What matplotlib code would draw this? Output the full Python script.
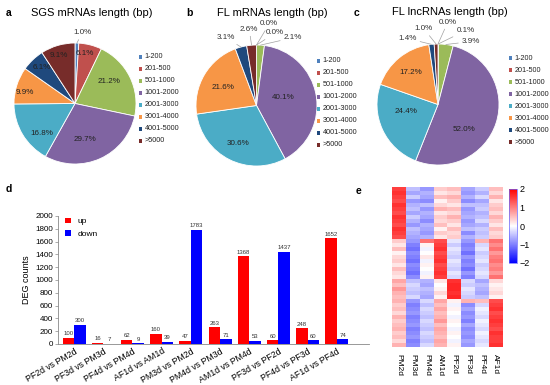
import numpy as np
import matplotlib
matplotlib.use('Agg')
import matplotlib.pyplot as plt
from matplotlib.colors import LinearSegmentedColormap
from matplotlib.patches import Rectangle
from matplotlib.transforms import ScaledTranslation

plt.rcParams['font.family'] = ['Liberation Sans', 'DejaVu Sans']

# ---------------- data ----------------
length_bins = ['1-200', '201-500', '501-1000', '1001-2000',
               '2001-3000', '3001-4000', '4001-5000', '>5000']
sgs_mrna = [1.0, 6.1, 21.2, 29.7, 16.8, 9.9, 6.1, 9.1]
fl_mrna = [0.0, 0.0, 2.1, 40.1, 30.6, 21.6, 3.1, 2.6]
fl_lncrna = [0.0, 0.1, 3.9, 52.0, 24.4, 17.2, 1.4, 1.0]

comparisons = ['PF2d vs PM2d', 'PF3d vs PM3d', 'PF4d vs PM4d', 'AF1d vs AM1d',
               'PM3d vs PM2d', 'PM4d vs PM3d', 'AM1d vs PM4d', 'PF3d vs PF2d',
               'PF4d vs PF3d', 'AF1d vs PF4d']
deg_up = [100, 16, 62, 160, 47, 263, 1368, 60, 248, 1652]
deg_down = [300, 7, 9, 39, 1783, 71, 53, 1437, 60, 74]

samples = ['PM2d', 'PM3d', 'PM4d', 'AM1d', 'PF2d', 'PF3d', 'PF4d', 'AF1d']
# z-scored expression, rows grouped into four clusters
heat_values = [
    [1.5, -0.5, -0.8, 0.4, 0.5, -0.7, -0.4, 0.5],
    [1.6, -0.7, -0.6, 0.2, 0.3, -0.8, -0.6, 0.3],
    [1.5, -0.4, -0.7, 0.5, 0.6, -0.6, -0.3, 0.6],
    [1.4, -0.8, -0.9, 0.1, 0.4, -0.9, -0.7, 0.2],
    [1.6, -0.6, -0.5, 0.3, 0.2, -0.5, -0.5, 0.4],
    [1.5, -0.5, -0.8, 0.6, 0.5, -0.8, -0.4, 0.5],
    [1.4, -0.7, -0.6, 0.2, 0.3, -0.7, -0.6, 0.3],
    [1.6, -0.4, -0.7, 0.4, 0.6, -0.6, -0.5, 0.6],
    [1.5, -0.6, -0.9, 0.3, 0.4, -0.8, -0.3, 0.4],
    [1.4, -0.8, -0.6, 0.5, 0.2, -0.7, -0.6, 0.2],
    [1.6, -0.5, -0.7, 0.1, 0.5, -0.5, -0.4, 0.5],
    [1.5, -0.6, -0.8, 0.4, 0.3, -0.9, -0.5, 0.3],
    [1.4, -0.7, -0.6, 0.2, 0.4, -0.6, -0.4, 0.4],
    [0.4, -0.8, 1.1, 1.4, -0.2, -0.8, 0.6, 1.1],
    [0.2, -1.0, 0.1, 1.5, -0.4, -1.0, -0.3, 0.9],
    [0.5, -1.1, -0.1, 1.6, -0.2, -0.9, -0.2, 1.1],
    [0.1, -0.9, 0.0, 1.4, -0.3, -1.1, -0.4, 0.8],
    [0.3, -1.0, 0.2, 1.5, -0.4, -0.8, -0.3, 1.0],
    [0.4, -1.1, -0.1, 1.6, -0.2, -1.0, -0.2, 1.1],
    [0.2, -0.9, 0.1, 1.4, -0.3, -0.9, -0.4, 0.9],
    [0.5, -1.0, 0.0, 1.5, -0.4, -1.1, -0.3, 1.0],
    [0.3, -1.1, -0.1, 1.6, -0.2, -0.8, -0.2, 0.8],
    [0.2, -0.9, 0.1, 1.5, -0.3, -1.0, -0.3, 1.1],
    [0.7, -0.5, -0.6, 0.2, 1.6, -0.3, -0.7, 0.3],
    [0.5, -0.3, -0.7, 0.0, 1.7, -0.4, -0.5, 0.1],
    [0.8, -0.4, -0.5, 0.1, 1.7, -0.2, -0.6, 0.2],
    [0.6, -0.5, -0.6, 0.3, 1.6, -0.3, -0.7, 0.3],
    [0.5, -0.3, -0.7, 0.1, 1.7, -0.4, -0.5, 0.1],
    [0.6, -0.8, -0.3, 0.7, 0.1, 0.6, 0.5, 1.4],
    [0.4, -1.0, -0.5, 0.5, -0.1, -0.9, -0.3, 1.5],
    [0.5, -0.9, -0.3, 0.7, 0.1, -0.7, -0.1, 1.6],
    [0.3, -0.8, -0.4, 0.5, 0.0, -0.9, -0.2, 1.4],
    [0.6, -1.0, -0.5, 0.6, -0.1, -0.8, -0.3, 1.5],
    [0.4, -0.9, -0.3, 0.8, 0.1, -1.0, -0.1, 1.6],
    [0.5, -0.8, -0.4, 0.5, 0.0, -0.7, -0.2, 1.5],
    [0.6, -1.0, -0.5, 0.7, -0.1, -0.9, -0.3, 1.4],
    [0.4, -0.9, -0.3, 0.6, 0.1, -0.8, -0.1, 1.6],
    [0.5, -0.8, -0.4, 0.5, 0.0, -0.9, -0.2, 1.5],
    [0.3, -1.0, -0.5, 0.7, -0.1, -0.7, -0.3, 1.5],
    [0.6, -0.9, -0.3, 0.6, 0.1, -0.8, -0.2, 1.6],
]

# ---------------- style ----------------
W, H = 550, 385
pie_colors = ['#4F81BD', '#C0504D', '#9BBB59', '#8064A2',
              '#4BACC6', '#F79646', '#1F497D', '#772C2A']


def fig_rect(x0, y0, x1, y1):
    # pixel box (top-left origin) -> figure fraction rect
    return [x0 / W, 1 - y1 / H, (x1 - x0) / W, (y1 - y0) / H]


fig = plt.figure(figsize=(W / 100, H / 100), dpi=100)

# label positions in pie coordinates (radius = 1)
pie_specs = [
    dict(vals=sgs_mrna, box=(14, 43, 136, 164), title='SGS mRNAs length (bp)',
         title_xy=(92, 13), tag='a', tag_xy=(9, 13), leg_xy=(139, 57),
         inside={1: (0.16, 0.83), 2: (0.55, 0.36), 3: (0.16, -0.59),
                 4: (-0.55, -0.49), 5: (-0.82, 0.19), 6: (-0.55, 0.59),
                 7: (-0.26, 0.80)},
         outside={0: (0.12, 1.17)}),
    dict(vals=fl_mrna, box=(196, 45, 317, 166), title='FL mRNAs length (bp)',
         title_xy=(272, 13), tag='b', tag_xy=(189, 13), leg_xy=(317, 61),
         inside={3: (0.44, 0.14), 4: (-0.31, -0.62), 5: (-0.55, 0.29)},
         outside={0: (0.21, 1.35), 1: (0.31, 1.2), 2: (0.6, 1.12),
                  6: (-0.5, 1.12), 7: (-0.12, 1.26)}),
    dict(vals=fl_lncrna, box=(377, 44, 499, 165), title='FL lncRNAs length (bp)',
         title_xy=(450, 12), tag='c', tag_xy=(357, 13), leg_xy=(509, 58),
         inside={3: (0.42, -0.42), 4: (-0.52, -0.11), 5: (-0.44, 0.53)},
         outside={0: (0.16, 1.36), 1: (0.45, 1.22), 2: (0.54, 1.04),
                  6: (-0.5, 1.09), 7: (-0.23, 1.25)}),
]

for spec in pie_specs:
    ax = fig.add_axes(fig_rect(*spec['box']))
    vals = spec['vals']
    ax.pie(vals, colors=pie_colors, startangle=90, counterclock=False,
           wedgeprops=dict(edgecolor='white', linewidth=0.6))
    ax.set_aspect('auto')
    ax.set_xlim(-1, 1)
    ax.set_ylim(-1, 1)
    ax.axis('off')
    total = sum(vals)
    cum = np.cumsum([0] + list(vals))
    for i, v in enumerate(vals):
        lab = f'{v:.1f}%'
        if i in spec['inside']:
            x, y = spec['inside'][i]
            ax.text(x, y, lab, ha='center', va='center', fontsize=5.8,
                    color='#222222')
        elif i in spec['outside']:
            mid = (cum[i] + v / 2) / total * 2 * np.pi
            ex, ey = np.sin(mid), np.cos(mid)
            x, y = spec['outside'][i]
            ax.annotate(lab, xy=(ex, ey), xytext=(x, y), ha='center',
                        va='center', fontsize=5.8, color='#333333',
                        annotation_clip=False,
                        arrowprops=dict(arrowstyle='-', color='#A0A0A0',
                                        lw=0.5, shrinkA=0.5, shrinkB=0))
    tx, ty = spec['title_xy']
    fig.text(tx / W, 1 - ty / H, spec['title'], ha='center', va='center',
             fontsize=8)
    gx, gy = spec['tag_xy']
    fig.text(gx / W, 1 - gy / H, spec['tag'], ha='center', va='center',
             fontsize=7.5, fontweight='bold')
    lx, ly = spec['leg_xy']
    for k, name in enumerate(length_bins):
        yy = ly + k * 12
        fig.add_artist(Rectangle((lx / W, 1 - (yy + 1.7) / H), 3.4 / W, 3.4 / H,
                                 transform=fig.transFigure,
                                 facecolor=pie_colors[k], edgecolor='none'))
        fig.text((lx + 5.5) / W, 1 - yy / H, name, ha='left', va='center',
                 fontsize=5.2, color='#222222')

# ---------------- panel d: bar chart ----------------
axd = fig.add_axes(fig_rect(58, 216, 369, 344))
x = np.arange(len(comparisons))
bw = 0.395
b_up = axd.bar(x - bw / 2, deg_up, bw, color='#FF0000', label='up')
b_dn = axd.bar(x + bw / 2, deg_down, bw, color='#0000FF', label='down')
for bars, vals in ((b_up, deg_up), (b_dn, deg_down)):
    for r, v in zip(bars, vals):
        axd.text(r.get_x() + r.get_width() / 2, v + 25, str(v), ha='center',
                 va='bottom', fontsize=4.3, color='#333333')
axd.set_ylim(0, 2000)
axd.set_xlim(-0.55, 10.1)
axd.set_yticks(range(0, 2001, 200))
axd.set_xticks(x)
axd.set_xticklabels(comparisons, rotation=30, ha='right', rotation_mode='anchor',
                    fontsize=6.3)
shift = ScaledTranslation(0.10, 0.0, fig.dpi_scale_trans)
for lab in axd.get_xticklabels():
    lab.set_transform(lab.get_transform() + shift)
axd.tick_params(axis='x', length=0, pad=2)
axd.tick_params(axis='y', labelsize=5.8, length=2, width=0.5, color='#888888',
                pad=1.5)
for s in ('top', 'right'):
    axd.spines[s].set_visible(False)
for s in ('left', 'bottom'):
    axd.spines[s].set_color('#888888')
    axd.spines[s].set_linewidth(0.6)
axd.set_ylabel('DEG counts', fontsize=6.5, labelpad=3)
axd.legend(loc='upper left', frameon=False, fontsize=6, handlelength=0.7,
           handleheight=0.7, borderaxespad=0.1, labelspacing=0.6,
           bbox_to_anchor=(0.01, 1.02))
fig.text(9 / W, 1 - 189 / H, 'd', ha='center', va='center', fontsize=7.5,
         fontweight='bold')

# ---------------- panel e: heatmap ----------------
cmap = LinearSegmentedColormap.from_list('bwr2', ['#0000FF', '#FFFFFF', '#FF0000'])
axe = fig.add_axes(fig_rect(392, 187, 502, 347))
im = axe.imshow(np.array(heat_values), cmap=cmap, vmin=-2, vmax=2,
                aspect='auto', interpolation='nearest')
axe.set_xticks(range(len(samples)))
axe.set_xticklabels(samples, rotation=-90, fontsize=6, va='top')
axe.tick_params(length=0, pad=5)
axe.set_yticks([])
for s in axe.spines.values():
    s.set_visible(False)
fig.text(358 / W, 1 - 191 / H, 'e', ha='center', va='center', fontsize=7.5,
         fontweight='bold')

cax = fig.add_axes(fig_rect(509, 189, 517, 263))
cb = fig.colorbar(im, cax=cax, ticks=[2, 1, 0, -1, -2])
cb.ax.tick_params(labelsize=6.5, length=0, pad=2)
cb.outline.set_edgecolor('#6666FF')
cb.outline.set_linewidth(0.5)

fig.savefig('out.png', dpi=100, facecolor='white')
